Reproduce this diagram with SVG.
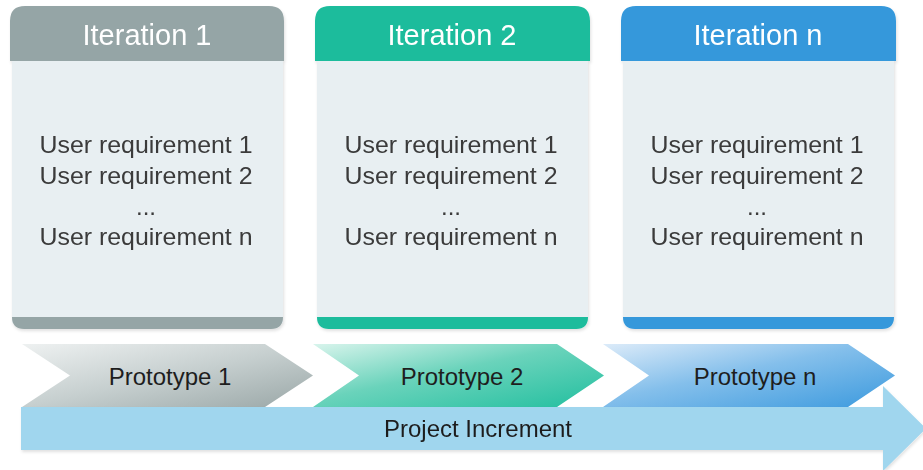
<svg xmlns="http://www.w3.org/2000/svg" width="923" height="470" viewBox="0 0 923 470">
<defs>
<style>
.hdr{font-family:"Liberation Sans",Arial,sans-serif;font-size:29px;fill:#ffffff;text-anchor:middle}
.req{font-family:"Liberation Sans",Arial,sans-serif;font-size:24px;fill:#3a3a3a;text-anchor:middle}
.proto{font-family:"Liberation Sans",Arial,sans-serif;font-size:24px;fill:#1e1e1e;text-anchor:middle}
.body{fill:#e8eff2}
</style>
<linearGradient id="g1" x1="0" y1="0" x2="1" y2="1">
<stop offset="0" stop-color="#eef1f1"/>
<stop offset="0.5" stop-color="#c6cfcf"/>
<stop offset="1" stop-color="#9aa7a7"/>
</linearGradient>
<linearGradient id="g2" x1="0" y1="0" x2="1" y2="1">
<stop offset="0" stop-color="#d8f4ec"/>
<stop offset="0.45" stop-color="#6ad3bb"/>
<stop offset="1" stop-color="#22bf9f"/>
</linearGradient>
<linearGradient id="g3" x1="0" y1="0" x2="1" y2="1">
<stop offset="0" stop-color="#dcebf9"/>
<stop offset="0.45" stop-color="#84bfeb"/>
<stop offset="1" stop-color="#3c9ade"/>
</linearGradient>
<filter id="sh" x="-5%" y="-10%" width="110%" height="130%">
<feDropShadow dx="1" dy="2" stdDeviation="1.5" flood-color="#000" flood-opacity="0.12"/>
</filter>
</defs>
<rect width="923" height="470" fill="#ffffff"/>

<g id="iteration1" filter="url(#sh)">
<rect class="body" x="12" y="61" width="271" height="262"/>
<path d="M12,317 H283 V317 Q283,329 271,329 H24 Q12,329 12,317 Z" fill="#95a5a6"/>
<path d="M10,61 V21 Q10,6 25,6 H269 Q284,6 284,21 V61 Z" fill="#95a5a6"/>
<text class="hdr" x="147" y="45">Iteration 1</text>
<text class="req" x="146" y="153" textLength="213" lengthAdjust="spacingAndGlyphs">User requirement 1</text>
<text class="req" x="146" y="184" textLength="213" lengthAdjust="spacingAndGlyphs">User requirement 2</text>
<text class="req" x="146" y="215">...</text>
<text class="req" x="146" y="245" textLength="213" lengthAdjust="spacingAndGlyphs">User requirement n</text>
</g>

<g id="iteration2" filter="url(#sh)">
<rect class="body" x="317" y="61" width="271" height="262"/>
<path d="M317,317 H588 Q588,329 576,329 H329 Q317,329 317,317 Z" fill="#1abc9c"/>
<path d="M315,61 V21 Q315,6 330,6 H575 Q590,6 590,21 V61 Z" fill="#1abc9c"/>
<text class="hdr" x="452" y="45">Iteration 2</text>
<text class="req" x="451" y="153" textLength="213" lengthAdjust="spacingAndGlyphs">User requirement 1</text>
<text class="req" x="451" y="184" textLength="213" lengthAdjust="spacingAndGlyphs">User requirement 2</text>
<text class="req" x="451" y="215">...</text>
<text class="req" x="451" y="245" textLength="213" lengthAdjust="spacingAndGlyphs">User requirement n</text>
</g>

<g id="iterationn" filter="url(#sh)">
<rect class="body" x="623" y="61" width="271" height="262"/>
<path d="M623,317 H894 Q894,329 882,329 H635 Q623,329 623,317 Z" fill="#3498db"/>
<path d="M621,61 V21 Q621,6 636,6 H881 Q896,6 896,21 V61 Z" fill="#3498db"/>
<text class="hdr" x="758" y="45">Iteration n</text>
<text class="req" x="757" y="153" textLength="213" lengthAdjust="spacingAndGlyphs">User requirement 1</text>
<text class="req" x="757" y="184" textLength="213" lengthAdjust="spacingAndGlyphs">User requirement 2</text>
<text class="req" x="757" y="215">...</text>
<text class="req" x="757" y="245" textLength="213" lengthAdjust="spacingAndGlyphs">User requirement n</text>
</g>

<g id="prototype1">
<polygon points="22,344 265,344 313,375.5 265,407 22,407 70,375.5" fill="url(#g1)"/>
<text class="proto" x="170" y="385">Prototype 1</text>
</g>
<g id="prototype2">
<polygon points="313,344 557,344 604,375.5 557,407 313,407 359,375.5" fill="url(#g2)"/>
<text class="proto" x="462" y="385">Prototype 2</text>
</g>
<g id="prototypen">
<polygon points="603,344 848,344 895,375.5 848,407 603,407 649,375.5" fill="url(#g3)"/>
<text class="proto" x="755" y="385">Prototype n</text>
</g>

<g id="connectors">
<g id="project-increment" filter="url(#sh)">
<polygon points="21,407 883,407 883,386 926,428.5 883,471 883,450 21,450" fill="#a0d6ee"/>
<text class="proto" x="478" y="437">Project Increment</text>
</g>
</g>
</svg>
